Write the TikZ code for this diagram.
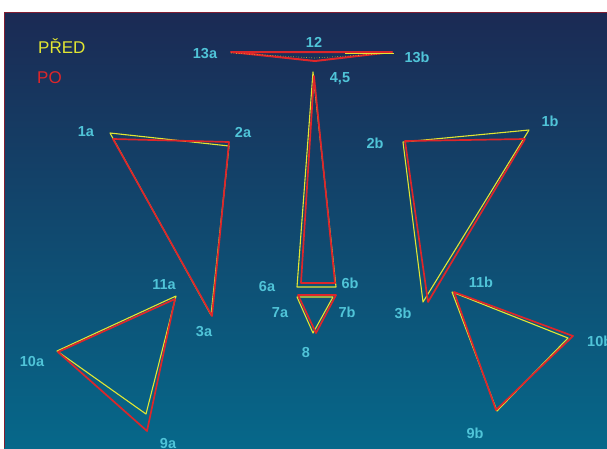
\documentclass[tikz,border=0pt]{standalone}
\usepackage{fontspec}
\setmainfont{Liberation Sans}
\definecolor{bgtop}{RGB}{27,42,84}
\definecolor{bgbot}{RGB}{6,104,138}
\definecolor{frame}{RGB}{130,30,50}
\definecolor{predc}{RGB}{226,230,50}
\definecolor{poc}{RGB}{222,38,42}
\definecolor{lblc}{RGB}{80,196,216}
\tikzset{
  pred/.style={draw=predc,line width=1.1pt,line join=round},
  po/.style={draw=poc,line width=1.7pt,line join=round},
  lbl/.style={text=lblc,font=\bfseries\fontsize{14.5}{16}\selectfont,inner sep=0pt},
  legend/.style={font=\fontsize{17}{20}\selectfont,inner sep=0pt,anchor=west}
}
\begin{document}
\begin{tikzpicture}[x=1pt,y=-1pt]
\useasboundingbox (0,0) rectangle (607,448);
\fill[white] (0,0) rectangle (607,448);
\shade[top color=bgtop,bottom color=bgbot] (4,12) rectangle (607,448);
\draw[frame,line width=0.8pt] (4,448) -- (4,12) -- (607,12);

% legend
\node[legend,text=predc] (lpred) at (38,46) {PŘED};
\node[legend,text=poc] (lpo) at (37,78) {PO};

% --- vertices (yellow = PŘED, red = PO)
\coordinate (y1a) at (110,133); \coordinate (y2a) at (229,146); \coordinate (y3a) at (211,315);
\coordinate (r1a) at (113,139); \coordinate (r2a) at (229,142); \coordinate (r3a) at (212,316);
\coordinate (y1b) at (529,130); \coordinate (y2b) at (403,142); \coordinate (y3b) at (423,302);
\coordinate (r1b) at (525,139); \coordinate (r2b) at (405,141); \coordinate (r3b) at (428,302);
\coordinate (y11a) at (176,296); \coordinate (y10a) at (57,351); \coordinate (y9a) at (146,414);
\coordinate (r11a) at (175,299); \coordinate (r10a) at (58,352); \coordinate (r9a) at (147,431);
\coordinate (y11b) at (452,292); \coordinate (y10b) at (568,338); \coordinate (y9b) at (497,411);
\coordinate (r11b) at (454,292); \coordinate (r10b) at (573,336); \coordinate (r9b) at (496,410);
\coordinate (y45) at (313,72); \coordinate (y6a) at (297,287); \coordinate (y6b) at (336,287);
\coordinate (r45) at (314,76); \coordinate (r6a) at (301,283); \coordinate (r6b) at (335,283);
\coordinate (y7a) at (297,297); \coordinate (y7b) at (333,297); \coordinate (y8) at (313,333);
\coordinate (r7a) at (298,295); \coordinate (r7b) at (336,295); \coordinate (r8) at (316,333);
\coordinate (y13a) at (231,53); \coordinate (y13b) at (394,53); \coordinate (y12) at (315,58);
\coordinate (r13a) at (231,52); \coordinate (r13b) at (392,52); \coordinate (r12) at (315,61);
\coordinate (ym) at (345,53);

% yellow (PŘED)
\draw[pred] (y1a) -- (y2a) -- (y3a) -- cycle;
\draw[pred] (y1b) -- (y2b) -- (y3b) -- cycle;
\draw[pred] (y11a) -- (y10a) -- (y9a) -- cycle;
\draw[pred] (y11b) -- (y10b) -- (y9b) -- cycle;
\draw[pred] (y45) -- (y6a) -- (y6b) -- cycle;
\draw[pred] (y7a) -- (y7b) -- (y8) -- cycle;

% red (PO)
\draw[po] (r1a) -- (r2a) -- (r3a) -- cycle;
\draw[po] (r1b) -- (r2b) -- (r3b) -- cycle;
\draw[po] (r11a) -- (r10a) -- (r9a) -- cycle;
\draw[po] (r11b) -- (r10b) -- (r9b) -- cycle;
\draw[po] (r45) -- (r6a) -- (r6b) -- cycle;
\draw[po] (r7a) -- (r7b) -- (r8) -- cycle;
\draw[po,line width=2pt] (r13a) -- (r13b) -- (r12) -- cycle;
\draw[predc,line width=0.6pt,dotted] (y13a) -- (y12) -- (y13b);
\draw[pred,line width=1pt] (ym) -- (y13b);

% labels
\node[lbl] (l1a) at (86,132) {1a};
\node[lbl] (l2a) at (243,133) {2a};
\node[lbl] (l3a) at (204,332) {3a};
\node[lbl] (l1b) at (550,121) {1b};
\node[lbl] (l2b) at (375,143) {2b};
\node[lbl] (l3b) at (403,313) {3b};
\node[lbl] (l11a) at (164,285) {11a};
\node[lbl] (l10a) at (32,361) {10a};
\node[lbl] (l9a) at (168,443) {9a};
\node[lbl] (l11b) at (481,282) {11b};
\node[lbl,anchor=west] (l10b) at (587,341) {10b};
\node[lbl] (l9b) at (475,433) {9b};
\node[lbl] (l45) at (340,79) {4,5};
\node[lbl] (l6a) at (267,286) {6a};
\node[lbl] (l6b) at (350,283) {6b};
\node[lbl] (l7a) at (280,313) {7a};
\node[lbl] (l7b) at (347,312) {7b};
\node[lbl] (l8) at (306,352) {8};
\node[lbl] (l12) at (314,42) {12};
\node[lbl] (l13a) at (205,54) {13a};
\node[lbl] (l13b) at (417,57) {13b};
\end{tikzpicture}
\end{document}
